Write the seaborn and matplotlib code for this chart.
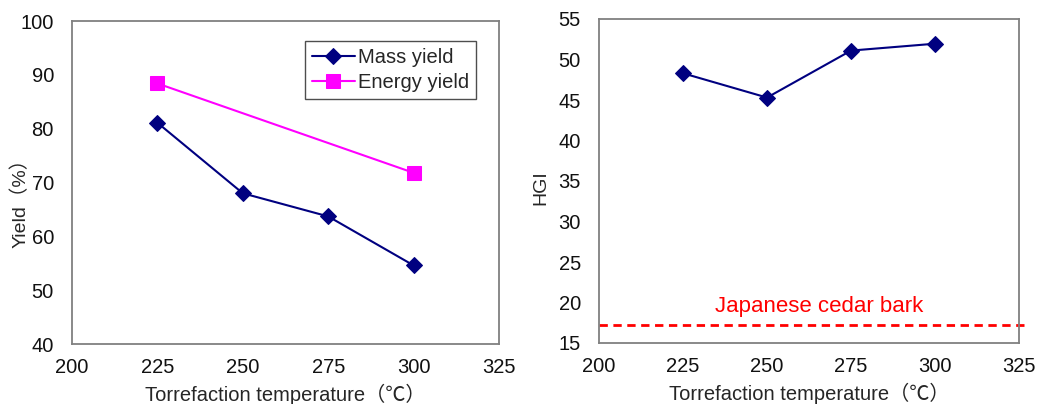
import matplotlib
matplotlib.use("Agg")
import matplotlib.pyplot as plt
import seaborn as sns
import pandas as pd

temps = [225, 250, 275, 300]
mass_yield = [81.1, 68.0, 63.7, 54.6]
energy_temps = [225, 300]
energy_yield = [88.4, 71.8]
hgi = [48.3, 45.3, 51.1, 51.95]
cedar_hgi = 17.2
xticks = [200, 225, 250, 275, 300, 325]

sns.set_theme(style="white")
plt.rcParams['font.family'] = ['Liberation Sans', 'DejaVu Sans']
cjk = ['Liberation Sans', 'Noto Sans CJK SC', 'DejaVu Sans']

fig = plt.figure(figsize=(10.37, 4.04), dpi=100)
ax1 = fig.add_axes([72/1037, 1-344/404, (499-72)/1037, (344-21)/404])
ax2 = fig.add_axes([599/1037, 1-343/404, (1019-599)/1037, (343-19)/404])

navy = "#000080"
mag = "#FF00FF"

df_m = pd.DataFrame({"T": temps, "Y": mass_yield})
df_e = pd.DataFrame({"T": energy_temps, "Y": energy_yield})
df_h = pd.DataFrame({"T": temps, "H": hgi})

sns.lineplot(data=df_m, x="T", y="Y", ax=ax1, color=navy, marker="D", markersize=8,
             markeredgecolor=navy, linewidth=1.5, label="Mass yield")
sns.lineplot(data=df_e, x="T", y="Y", ax=ax1, color=mag, marker="s", markersize=9.5,
             markeredgecolor=mag, linewidth=1.5, label="Energy yield")
ax1.set_xlim(200, 325)
ax1.set_ylim(40, 100)
ax1.set_yticks(range(40, 101, 10))
ax1.set_ylabel("Yield（%）", fontsize=14, family=cjk)
ax1.yaxis.set_label_coords(-0.098, 0.45)
leg = ax1.legend(loc="upper right", bbox_to_anchor=(0.955, 0.95), fontsize=14.5, frameon=True,
                 fancybox=False, edgecolor="#222222", handlelength=2.1, handletextpad=0.15,
                 borderpad=0.35, labelspacing=0.3, borderaxespad=0.2)
leg.get_frame().set_linewidth(1.0)

sns.lineplot(data=df_h, x="T", y="H", ax=ax2, color=navy, marker="D", markersize=8,
             markeredgecolor=navy, linewidth=1.5, legend=False)
ax2.plot([200, 327], [cedar_hgi, cedar_hgi], color="#FF0000", linestyle=(0, (3, 2)),
         linewidth=2, clip_on=False)
ax2.text(265.5, 18.2, "Japanese cedar bark", color="#FF0000", fontsize=16,
         ha="center", va="bottom")
ax2.set_xlim(200, 325)
ax2.set_ylim(15, 55)
ax2.set_yticks(range(15, 56, 5))
ax2.set_ylabel("HGI", fontsize=14)
ax2.yaxis.set_label_coords(-0.117, 0.48)

for ax in (ax1, ax2):
    ax.set_xticks(xticks)
    ax.set_xlabel("Torrefaction temperature（℃）", fontsize=14.5, labelpad=5, family=cjk)
    ax.tick_params(axis="both", direction="in", length=4, width=1, color="#808080",
                   labelsize=14.5, labelcolor="#111111")
    ax.tick_params(axis="y", pad=13)
    ax.tick_params(axis="x", pad=10)
    for s in ax.spines.values():
        s.set_visible(True)
        s.set_color("#808080")
        s.set_linewidth(1.3)

fig.savefig("out.png", dpi=100)
